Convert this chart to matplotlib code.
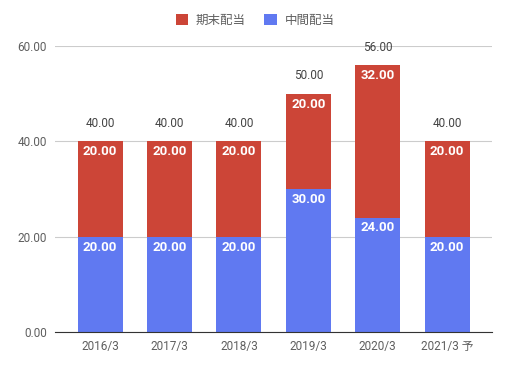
import matplotlib.pyplot as plt
import numpy as np

plt.rcParams["font.family"] = ["Roboto", "Noto Sans CJK JP", "DejaVu Sans"]

years = ["2016/3", "2017/3", "2018/3", "2019/3", "2020/3", "2021/3 予"]
interim = [20, 20, 20, 30, 24, 20]  # 中間配当
year_end = [20, 20, 20, 20, 32, 20]  # 期末配当

blue = "#6079f1"
red = "#cc4537"
gray = "#5f5f5f"

fig = plt.figure(figsize=(5.1, 3.68), dpi=100)
ax = fig.add_axes([0.108, 0.098, 0.857, 0.777])

x = np.arange(len(years))
w = 0.65
b1 = ax.bar(x, interim, w, color=blue, label="中間配当", zorder=2)
b2 = ax.bar(x, year_end, w, bottom=interim, color=red, label="期末配当", zorder=2)

# 区間ラベル（白字）
for i in range(len(years)):
    for bottom, val, col in ((0, interim[i], blue), (interim[i], year_end[i], red)):
        ax.annotate(f"{val:.2f}", (x[i], bottom + val), xytext=(0, -7.5),
                    textcoords="offset points", ha="center", va="center",
                    color="white", fontsize=9.5, fontweight="bold", zorder=3,
                    bbox=dict(boxstyle="square,pad=0.15", fc=col, ec="none"))
    total = interim[i] + year_end[i]
    ax.annotate(f"{total:.2f}", (x[i], total), xytext=(0, 13),
                textcoords="offset points", ha="center", va="center",
                color="#444444", fontsize=8.5)

ax.set_ylim(0, 60)
ax.set_xlim(-0.65, 5.65)
ax.set_yticks([0, 20, 40, 60])
ax.set_yticklabels([f"{v:.2f}" for v in [0, 20, 40, 60]])
ax.set_xticks(x)
ax.set_xticklabels(years)
ax.tick_params(axis="both", length=0, labelsize=8.5, colors=gray, pad=6)
ax.grid(axis="y", color="#cccccc", linewidth=0.8, zorder=0)
for s in ["top", "right", "left"]:
    ax.spines[s].set_visible(False)
ax.spines["bottom"].set_color("#333333")
ax.spines["bottom"].set_zorder(3)

handles = [b2, b1]
fig.legend(handles, ["期末配当", "中間配当"], loc="center", bbox_to_anchor=(0.5, 0.945),
           ncol=2, frameon=False, fontsize=9, handlelength=1.0, handleheight=1.0,
           columnspacing=1.5, handletextpad=0.6, labelcolor=gray)

fig.savefig("out.png", dpi=100)
